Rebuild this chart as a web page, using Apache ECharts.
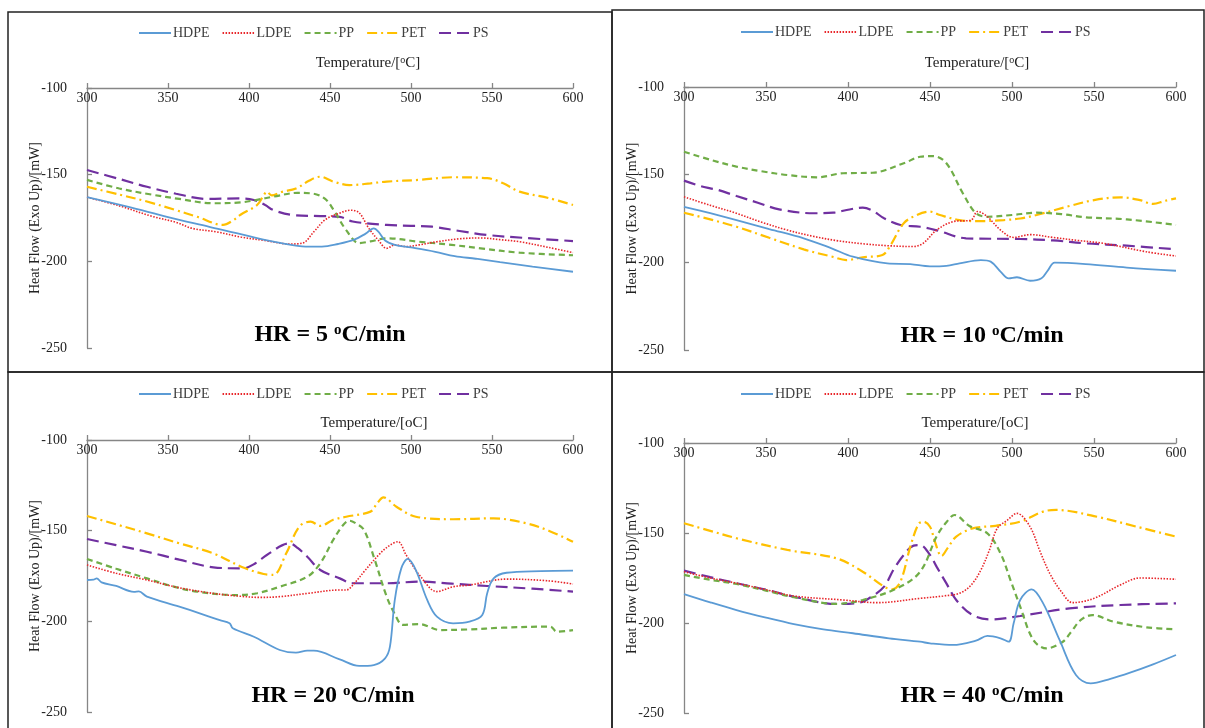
<!DOCTYPE html>
<html>
<head>
<meta charset="utf-8">
<script src="https://cdn.jsdelivr.net/npm/echarts@6/dist/echarts.min.js"></script>
<style>
  html, body { margin: 0; padding: 0; background: #fff; }
  #chart { width: 1205px; height: 728px; }
</style>
</head>
<body>
<div id="chart"></div>
<script>
// DSC heat-flow curves of five plastics at four heating rates (HR).
// Each series is a list of [temperature °C, heat flow mW] pairs.

const seriesNames = ['HDPE', 'LDPE', 'PP', 'PET', 'PS'];
const heatingRates = ['5', '10', '20', '40'];
const tempTicks = [300, 350, 400, 450, 500, 550, 600];
const flowTicks = [-250, -200, -150, -100];

// HR = 5 °C/min
const hr5_HDPE = [[300,-163],[325,-168.5],[350,-174.5],[375,-180],[400,-185.5],[420,-189.5],[435,-191.5],[445,-191.5],[455,-190],[465,-187.5],[472,-184],[477,-181],[480,-183],[484,-188],[490,-190.5],[500,-192],[515,-194.5],[527,-197],[540,-198.5],[555,-200.5],[575,-203],[600,-206]];
const hr5_LDPE = [[300,-163],[320,-168],[340,-174],[355,-177.5],[365,-181],[380,-183],[395,-186],[410,-188],[425,-190],[433,-189.5],[440,-183],[447,-176],[455,-172.5],[463,-170.5],[468,-172],[474,-181],[480,-188],[485,-192.5],[490,-190.5],[497,-191.5],[505,-190.5],[516,-188.7],[530,-187],[543,-186.5],[555,-187.5],[567,-188.7],[585,-192],[600,-195]];
const hr5_PP = [[300,-153],[320,-158],[340,-161.5],[357,-164],[378,-166.5],[395,-166],[405,-164.5],[415,-162.7],[430,-160.5],[440,-161],[447,-164],[452,-170],[460,-182],[468,-189.5],[475,-188.5],[485,-186.7],[505,-188.7],[525,-190.5],[543,-192.5],[567,-195],[600,-196.5]];
const hr5_PET = [[300,-157],[320,-161.5],[337,-165.5],[355,-170.5],[368,-174.3],[384,-179],[390,-176.5],[395,-173],[405,-167.5],[409,-162],[411,-159.8],[414,-162],[420,-160],[429,-158],[437,-153.5],[444,-151.2],[452,-154],[462,-156],[475,-155],[485,-154],[505,-153],[526,-151.5],[547,-152],[557,-155],[567,-159.8],[585,-163.5],[600,-167.5]];
const hr5_PS = [[300,-147.3],[320,-152.5],[337,-157],[355,-161],[374,-164],[394,-163.7],[403,-164.6],[410,-167.5],[415,-170.4],[427,-173.3],[444,-173.9],[456,-174.3],[464,-177],[485,-179],[500,-179.5],[513,-180],[530,-182.5],[547,-184.8],[570,-186.5],[600,-188.3]];

// HR = 10 °C/min
const hr10_HDPE = [[300,-168.3],[316,-172],[332,-175.9],[352,-181],[373,-186.3],[390,-192],[403,-196.8],[424,-200.6],[438,-201],[450,-202.3],[460,-202],[468,-200.6],[481,-198.7],[487,-199.6],[493,-205.3],[498,-209.1],[503,-208.5],[511,-210.5],[518,-209.1],[522,-204.4],[526,-200.2],[545,-201],[570,-203],[600,-204.8]];
const hr10_LDPE = [[300,-162.6],[316,-167.5],[332,-172],[347,-177],[363,-181.6],[378,-185],[393,-187.6],[410,-189.5],[424,-190.5],[440,-191],[446,-189],[454,-181.6],[464,-176.8],[475,-175.9],[479,-171],[485,-174],[493,-181.6],[501,-185.8],[511,-184.2],[525,-185.8],[540,-187.5],[556,-189.2],[582,-194],[600,-196.4]];
const hr10_PP = [[300,-136.9],[316,-141.5],[332,-145.4],[347,-148],[363,-150.2],[381,-151.5],[397,-149.2],[415,-148.9],[434,-143.5],[444,-139.8],[452,-139.4],[460,-143.5],[470,-160.6],[478,-172],[485,-174],[500,-173],[515,-171.7],[530,-172.5],[545,-174.3],[570,-175.5],[600,-178.7]];
const hr10_PET = [[300,-171.7],[316,-175.5],[332,-179.7],[352,-186],[373,-192.6],[390,-196.7],[399,-198.7],[409,-197.1],[421,-195.8],[426,-190.1],[434,-177.7],[442,-173],[450,-171.1],[456,-173],[468,-175.9],[480,-176.5],[495,-175.9],[505,-175],[515,-173],[535,-167.9],[550,-164.5],[566,-162.9],[578,-164.5],[586,-166.7],[593,-165],[600,-163.5]];
const hr10_PS = [[300,-153.4],[310,-156.5],[316,-157.8],[320,-158.5],[332,-162.2],[345,-166],[358,-169.8],[379,-172],[391,-171.7],[400,-170],[409,-168.8],[415,-170.5],[422,-174.9],[432,-178.7],[444,-179.7],[455,-182],[472,-186.3],[505,-186.7],[525,-187.5],[545,-189.2],[570,-190.5],[600,-192.6]];

// HR = 20 °C/min
const hr20_HDPE = [[300,-177.2],[304,-177],[306,-176.3],[309,-178.5],[318,-180.5],[329,-183.7],[332,-183.5],[337,-186.4],[357,-191.9],[382,-199.3],[388,-201],[390,-203.8],[403,-208.5],[419,-215.8],[429,-217.3],[436,-216.2],[440,-216.2],[456,-221],[468,-224.6],[477,-224.1],[484,-220.4],[487,-214],[490,-188.2],[494,-170.8],[498,-165.6],[503,-171.7],[510,-188.2],[516,-197.4],[526,-201.1],[536,-200.2],[544,-196.5],[547,-184.6],[551,-176.3],[559,-173.2],[580,-172.3],[600,-172]];
const hr20_LDPE = [[300,-168.9],[318,-173.5],[337,-177.2],[357,-181.5],[378,-184.6],[395,-186.2],[407,-186.8],[419,-186.4],[437,-184.5],[456,-182.7],[460,-182.7],[466,-178],[471,-172.6],[481,-162.5],[487,-158],[492,-156.1],[497,-163.4],[506,-175.4],[516,-183.6],[526,-180.9],[536,-180],[559,-176.7],[584,-177.6],[600,-179.4]];
const hr20_PP = [[300,-165.6],[318,-171],[337,-176.3],[352,-180.5],[368,-183.6],[392,-185.5],[405,-184.5],[419,-180.9],[436,-175.4],[444,-168],[452,-155.1],[458,-147],[462,-144.5],[466,-146],[471,-149.6],[477,-164.4],[485,-186.4],[490,-196],[495,-202],[505,-201.5],[518,-204.8],[535,-204.5],[557,-203.5],[586,-202.9],[590,-205.7],[600,-204.8]];
const hr20_PET = [[300,-141.9],[318,-146.5],[337,-151.5],[357,-157],[378,-162.5],[396,-170.2],[409,-173.9],[415,-174.4],[423,-162.5],[431,-147.8],[438,-145],[444,-147.4],[452,-144],[460,-142.3],[475,-139.5],[479,-135],[483,-131.6],[491,-136.8],[503,-142.3],[526,-143.7],[551,-143.2],[571,-145.9],[585,-150],[600,-156.1]];
const hr20_PS = [[300,-154.6],[318,-158],[337,-161.6],[357,-166],[378,-170.2],[396,-170.8],[404,-168],[411,-163.4],[425,-157],[430,-159.5],[436,-164.4],[444,-171.7],[456,-176.3],[464,-179],[485,-179],[505,-178.1],[525,-179.2],[547,-180.5],[575,-182],[600,-183.6]];

// HR = 40 °C/min
const hr40_HDPE = [[300,-183.9],[316,-188.5],[332,-192.8],[350,-197],[367,-200.6],[385,-203.5],[403,-205.7],[425,-208.5],[444,-210.4],[450,-211.3],[464,-212.2],[478,-209.8],[485,-207.2],[493,-208.5],[498,-210.4],[501,-200.2],[505,-187.2],[512,-181.3],[519,-189.1],[529,-209.4],[539,-228.9],[548,-233.5],[560,-231],[572,-227.6],[586,-223],[600,-217.8]];
const hr40_LDPE = [[300,-171.5],[316,-175],[332,-177.9],[350,-181.5],[367,-185],[397,-187.2],[418,-188.7],[444,-186.3],[458,-185],[468,-183.5],[475,-179],[481,-170.6],[486,-160],[491,-147.4],[497,-143],[503,-139.1],[511,-146.5],[517,-160],[523,-172.4],[530,-182.5],[537,-188.7],[550,-186.3],[566,-178.9],[578,-175],[600,-175.7]];
const hr40_PP = [[300,-173.3],[316,-176],[332,-178.3],[350,-182],[367,-185.7],[393,-189.4],[409,-187.2],[430,-180.7],[444,-171.5],[454,-152],[460,-144],[465,-140],[474,-146.1],[485,-150.2],[493,-161.3],[499,-176],[505,-190.9],[513,-209.4],[521,-214.1],[531,-210.4],[536,-205],[542,-198.3],[549,-195.6],[562,-199.3],[582,-202.4],[600,-203.5]];
const hr40_PET = [[300,-144.6],[316,-148.8],[332,-152.9],[363,-159.4],[393,-164.1],[409,-171.5],[422,-179.8],[427,-181.3],[432,-177],[438,-157.6],[443,-145],[446,-143.7],[450,-146.5],[453,-154.8],[457,-162.8],[461,-158],[466,-152],[476,-147.4],[490,-146],[505,-143.7],[519,-138.1],[527,-137.2],[550,-140.6],[576,-146.5],[600,-152]];
const hr40_PS = [[300,-170.9],[316,-174.5],[332,-177.9],[350,-181.5],[367,-185.4],[393,-189.4],[407,-188.7],[415,-185],[422,-179.8],[428,-170],[434,-162.2],[440,-157],[444,-156.7],[450,-162.2],[454,-168.7],[460,-178],[466,-187.2],[476,-195.6],[487,-198],[505,-196.1],[535,-191.9],[566,-190],[600,-189.1]];

const panelData = [
  [hr5_HDPE, hr5_LDPE, hr5_PP, hr5_PET, hr5_PS],
  [hr10_HDPE, hr10_LDPE, hr10_PP, hr10_PET, hr10_PS],
  [hr20_HDPE, hr20_LDPE, hr20_PP, hr20_PET, hr20_PS],
  [hr40_HDPE, hr40_LDPE, hr40_PP, hr40_PET, hr40_PS]
];

// ---- styling ----
const SERIF = '"Liberation Serif", "Times New Roman", serif';
const lineStyles = [
  { color: '#5B9BD5', width: 1.8, type: 'solid' },
  { color: '#E8262A', width: 1.6, type: [1.5, 1.5] },
  { color: '#70AD47', width: 2.2, type: [6, 4] },
  { color: '#FFC000', width: 2.2, type: [10, 4, 2, 4] },
  { color: '#7030A0', width: 2.2, type: [12, 6] }
];

// plot-area rectangle of each panel
const grids = [
  { left: 87,  top: 88,  width: 486, height: 260 },
  { left: 684, top: 87,  width: 492, height: 263 },
  { left: 87,  top: 440, width: 486, height: 272 },
  { left: 684, top: 443, width: 492, height: 270 }
];
const legendPos = [
  { left: 133, top: 21 },
  { left: 735, top: 20 },
  { left: 133, top: 382 },
  { left: 735, top: 382 }
];
const titleShift = [76, 94, 88, 90];
const titleGap = [17, 16, 9, 12];
const xNames = ['Temperature/[{s|o}C]', 'Temperature/[{s|o}C]', 'Temperature/[oC]', 'Temperature/[oC]'];
const hrLabelPos = [[330, 335], [982, 336], [333, 696], [982, 696]];

const axisLineStyle = { color: '#868686', width: 1.3 };

const xAxes = grids.map((g, i) => ({
  type: 'value', gridIndex: i, position: 'top',
  min: tempTicks[0], max: tempTicks[tempTicks.length - 1], interval: 50,
  axisLine: { show: true, lineStyle: axisLineStyle },
  axisTick: { show: true, inside: false, length: 5, lineStyle: axisLineStyle },
  axisLabel: { inside: true, fontFamily: SERIF, fontSize: 14, color: '#222', margin: 3 },
  splitLine: { show: false },
  name: xNames[i], nameLocation: 'middle', nameGap: titleGap[i], nameMoveOverlap: false,
  nameTextStyle: {
    fontFamily: SERIF, fontSize: 15, color: '#222',
    padding: [0, 0, 0, titleShift[i]],
    rich: { s: { fontFamily: SERIF, fontSize: 10, color: '#222', verticalAlign: 'top', padding: [0, 0, 6, 0] } }
  }
}));

const yAxes = grids.map((g, i) => ({
  type: 'value', gridIndex: i,
  min: flowTicks[0], max: flowTicks[flowTicks.length - 1], interval: 50,
  axisLine: { show: true, lineStyle: axisLineStyle },
  axisTick: { show: true, inside: true, length: 5, lineStyle: axisLineStyle },
  axisLabel: { fontFamily: SERIF, fontSize: 14, color: '#222', margin: 20 },
  splitLine: { show: false },
  name: 'Heat Flow (Exo Up)/[mW]', nameLocation: 'middle', nameRotate: 90, nameGap: 45,
  nameMoveOverlap: false,
  nameTextStyle: { fontFamily: SERIF, fontSize: 14, color: '#222' }
}));

const series = [];
panelData.forEach((panel, p) => {
  panel.forEach((data, k) => {
    series.push({
      name: seriesNames[k], type: 'line',
      xAxisIndex: p, yAxisIndex: p,
      data: data, symbol: 'none', smooth: 0.35,
      lineStyle: lineStyles[k], itemStyle: { color: lineStyles[k].color },
      emphasis: { disabled: true }, animation: false, z: 10 - k
    });
  });
});

const legends = legendPos.map(pos => ({
  data: seriesNames, left: pos.left, top: pos.top,
  itemWidth: 32, itemHeight: 10, itemGap: 12,
  itemStyle: { opacity: 0 },
  textStyle: { fontFamily: SERIF, fontSize: 14, color: '#404040', padding: [0, 0, 0, -3] },
  selectedMode: false
}));

// panel frames and heating-rate captions
const graphics = [
  { type: 'rect', shape: { x: 8, y: 12, width: 604, height: 360 }, style: { fill: 'none', stroke: '#222', lineWidth: 1.5 }, silent: true },
  { type: 'rect', shape: { x: 612, y: 10, width: 592, height: 362 }, style: { fill: 'none', stroke: '#222', lineWidth: 1.5 }, silent: true },
  { type: 'rect', shape: { x: 8, y: 372, width: 604, height: 360 }, style: { fill: 'none', stroke: '#222', lineWidth: 1.5 }, silent: true },
  { type: 'rect', shape: { x: 612, y: 372, width: 592, height: 360 }, style: { fill: 'none', stroke: '#222', lineWidth: 1.5 }, silent: true }
];
heatingRates.forEach((hr, i) => {
  graphics.push({
    type: 'text', x: hrLabelPos[i][0], y: hrLabelPos[i][1], silent: true,
    style: {
      text: '{a|HR = ' + hr + ' }{s|o}{a|C/min}',
      textAlign: 'center', textVerticalAlign: 'middle',
      rich: {
        a: { fontFamily: SERIF, fontSize: 24, fontWeight: 'bold', fill: '#000' },
        s: { fontFamily: SERIF, fontSize: 15, fontWeight: 'bold', fill: '#000', verticalAlign: 'top' }
      }
    }
  });
});

const chart = echarts.init(document.getElementById('chart'), null, { renderer: 'canvas' });
chart.setOption({
  backgroundColor: '#fff',
  animation: false,
  grid: grids,
  xAxis: xAxes,
  yAxis: yAxes,
  legend: legends,
  series: series,
  graphic: graphics
});
</script>
</body>
</html>
